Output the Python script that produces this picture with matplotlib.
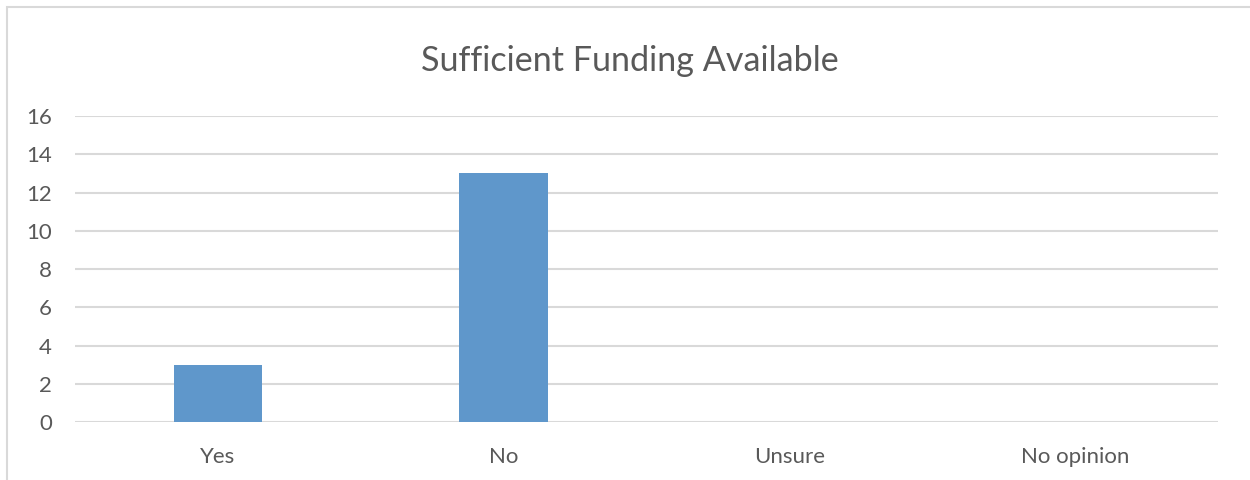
import matplotlib.pyplot as plt
from matplotlib.patches import Rectangle

# -----------------------------
# Data
# -----------------------------
categories = ["Yes", "No", "Unsure", "No opinion"]
counts = [3, 13, 0, 0]
y_ticks = [0, 2, 4, 6, 8, 10, 12, 14, 16]

plt.rcParams["font.family"] = ["Lato", "DejaVu Sans"]

text_color = "#595959"
grid_color = "#D9D9D9"
bar_color = "#5F97CB"

fig = plt.figure(figsize=(12.5, 4.8), dpi=100)
ax = fig.add_axes([0.06, 0.1208, 0.9144, 0.6375])

# chart border (only top/left visible in the crop)
fig.patches.append(Rectangle((7 / 1250, -0.1), 1.2, 1 - 7 / 480 + 0.1,
                             transform=fig.transFigure, fill=False,
                             edgecolor=grid_color, linewidth=1.5))

x = range(len(categories))
ax.bar(x, counts, width=0.31, color=bar_color, zorder=3)

ax.set_xlim(-0.5, len(categories) - 0.5)
ax.set_ylim(0, 16)
ax.set_yticks(y_ticks)
ax.set_xticks(list(x))
ax.set_xticklabels(categories)
ax.grid(axis="y", color=grid_color, linewidth=1.5, zorder=0)
ax.tick_params(axis="both", length=0, labelsize=16, colors=text_color)
ax.tick_params(axis="x", pad=18)
ax.tick_params(axis="y", pad=16.5)
for s in ax.spines.values():
    s.set_visible(False)

fig.text(0.504, 0.872, "Sufficient Funding Available", ha="center", va="center",
         fontsize=24.6, color=text_color)

fig.savefig("out.png", dpi=100)
